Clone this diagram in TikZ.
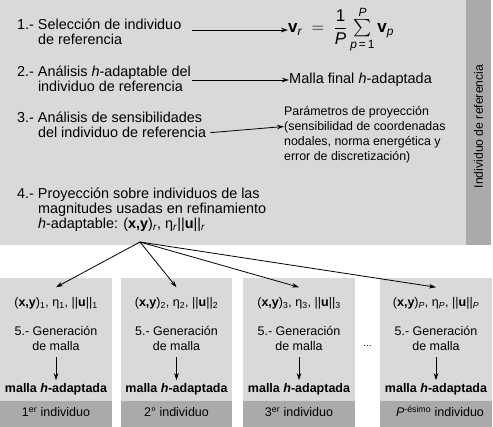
\documentclass[tikz,border=0pt]{standalone}
\usepackage{amsmath}
\usepackage{fontspec}
\setmainfont{Liberation Sans}
\usetikzlibrary{arrows.meta}

\definecolor{boxgray}{RGB}{217,217,217}
\definecolor{bandgray}{RGB}{170,170,170}

\begin{document}
\begin{tikzpicture}[x=1pt,y=-1pt,
    every node/.style={inner sep=0pt,font=\fontsize{12.5}{14.5}\selectfont},
    arrow/.style={-{Stealth[length=7pt,width=4.5pt]},line width=0.8pt},
    stepnode/.style={anchor=base west,font=\fontsize{14.4}{15}\selectfont},
    boxtext/.style={anchor=base},
    meshtext/.style={anchor=base,inner ysep=3.5pt,font=\fontsize{12.5}{14.5}\selectfont\bfseries},
    magtext/.style={anchor=base,inner ysep=10pt}]
  \useasboundingbox (0,0) rectangle (493,427);

  % individuo de referencia
  \fill [boxgray] (0,0) rectangle (466,245);
  \fill [bandgray] (466,0) rectangle (491,245);
  \node [rotate=90,font=\fontsize{12.2}{14}\selectfont] (refname) at (478.5,126.5) {Individuo de referencia};

  \node [stepnode] (select) at (17,30)
    {\begin{tabular}[t]{@{}l@{ }p{154pt}@{}}1.-&Selección de individuo\\&de referencia\end{tabular}};
  \node [stepnode] (hadapt) at (17,77)
    {\begin{tabular}[t]{@{}l@{ }p{154pt}@{}}2.-&Análisis \textit{h}-adaptable del\\&individuo de referencia\end{tabular}};
  \node [stepnode] (sensit) at (17,123)
    {\begin{tabular}[t]{@{}l@{ }l@{}}3.-&Análisis de sensibilidades\\&del individuo de referencia\end{tabular}};
  \node [stepnode] (project) at (17,198.5)
    {\begin{tabular}[t]{@{}l@{ }l@{}}4.-&Proyección sobre individuos de las\\&magnitudes usadas en refinamiento\\
      &\textit{h}-adaptable: (\textbf{x,y})\textsubscript{\textit{r}}, η\textsubscript{\textit{r}}||\textbf{u}||\textsubscript{\textit{r}}\end{tabular}};

  \node [anchor=west,font=\fontsize{17}{20}\selectfont] (vmean) at (288,29.5)
    {$\displaystyle\textbf{v}_{\textit{r}}\;=\;\frac{\text{1}}{\textit{P}}\,{\textstyle\sum\limits_{\textit{p}\,\text{=}\,\text{1}}^{\textit{P}}}\,\textbf{v}_{\textit{p}}$};
  \node [anchor=west,font=\fontsize{14.5}{17}\selectfont] (finalmesh) at (289,80) {Malla final \textit{h}-adaptada};
  \node [stepnode,font=\fontsize{12.4}{15}\selectfont] (params) at (284,115.5)
    {\begin{tabular}[t]{@{}l@{}}Parámetros de proyección\\(sensibilidad de coordenadas\\nodales, norma energética y\\error de discretización)\end{tabular}};

  \draw [arrow] (select.base east) -- (select.base east -| vmean.west);
  \draw [arrow] ([yshift=-3pt]hadapt.base east) -- ([yshift=-3pt]hadapt.base east -| finalmesh.west);
  \draw [arrow,shorten <=4pt] ([yshift=-10pt]sensit.base east) -- ([yshift=-11pt]params.base west);

  \coordinate (apex) at (140,242);

  % individuos
  \fill [boxgray] (0,278) rectangle (112,427);
  \fill [bandgray] (0,401) rectangle (112,427);
  \node [magtext] (mag1) at (56,306.5) {(\textbf{x,y})\textsubscript{1}, η\textsubscript{1}, ||\textbf{u}||\textsubscript{1}};
  \node [boxtext] (gen1) at (56,336) {\begin{tabular}[t]{@{}c@{}}5.- Generación\\de malla\end{tabular}};
  \node [meshtext] (mesh1) at (56,393) {malla \textit{h}-adaptada};
  \node [boxtext] (ind1) at (56,416.5) {1\textsuperscript{er} individuo};

  \fill [boxgray] (121,278) rectangle (232,427);
  \fill [bandgray] (121,401) rectangle (232,427);
  \node [magtext] (mag2) at (176.5,306.5) {(\textbf{x,y})\textsubscript{2}, η\textsubscript{2}, ||\textbf{u}||\textsubscript{2}};
  \node [boxtext] (gen2) at (176.5,336) {\begin{tabular}[t]{@{}c@{}}5.- Generación\\de malla\end{tabular}};
  \node [meshtext] (mesh2) at (176.5,393) {malla \textit{h}-adaptada};
  \node [boxtext] (ind2) at (176.5,416.5) {2° individuo};

  \fill [boxgray] (243,278) rectangle (355,427);
  \fill [bandgray] (243,401) rectangle (355,427);
  \node [magtext] (mag3) at (299,306.5) {(\textbf{x,y})\textsubscript{3}, η\textsubscript{3}, ||\textbf{u}||\textsubscript{3}};
  \node [boxtext] (gen3) at (299,336) {\begin{tabular}[t]{@{}c@{}}5.- Generación\\de malla\end{tabular}};
  \node [meshtext] (mesh3) at (299,393) {malla \textit{h}-adaptada};
  \node [boxtext] (ind3) at (299,416.5) {3\textsuperscript{er} individuo};

  \node [font=\fontsize{10}{12}\selectfont] (dots) at (367.5,346) {...};

  \fill [boxgray] (380,278) rectangle (492,427);
  \fill [bandgray] (380,401) rectangle (492,427);
  \node [magtext] (magP) at (436,306.5) {(\textbf{x,y})\textsubscript{\textit{P}}, η\textsubscript{\textit{P}}, ||\textbf{u}||\textsubscript{\textit{P}}};
  \node [boxtext] (genP) at (436,336) {\begin{tabular}[t]{@{}c@{}}5.- Generación\\de malla\end{tabular}};
  \node [meshtext] (meshP) at (436,393) {malla \textit{h}-adaptada};
  \node [boxtext] (indP) at (440,416.5) {\textit{P}\textsuperscript{-ésimo} individuo};

  \draw [arrow] (apex) -- (mag1.north);
  \draw [arrow] (apex) -- (mag2.north);
  \draw [arrow] (apex) -- (mag3.north);
  \draw [arrow] (apex) -- (magP.north);
  \draw [arrow,shorten <=2pt] (gen1.south) -- (mesh1.north);
  \draw [arrow,shorten <=2pt] (gen2.south) -- (mesh2.north);
  \draw [arrow,shorten <=2pt] (gen3.south) -- (mesh3.north);
  \draw [arrow,shorten <=2pt] (genP.south) -- (meshP.north);
\end{tikzpicture}
\end{document}
